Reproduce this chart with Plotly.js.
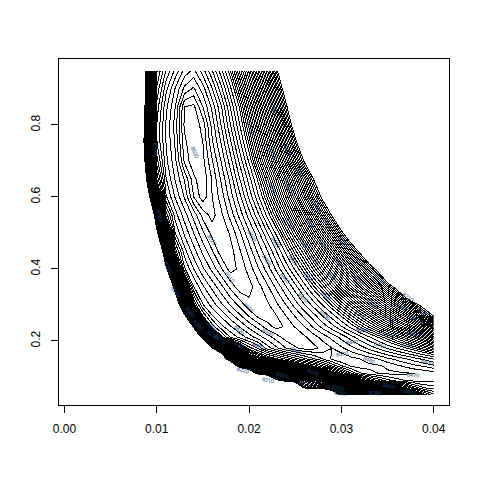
<!DOCTYPE html>
<html><head><meta charset="utf-8">
<script src="https://cdn.plot.ly/plotly-3.0.1.min.js"></script>
<style>
html,body{margin:0;padding:0;background:#fff}
#c{width:480px;height:480px}
.contourlevel path{shape-rendering:crispEdges}
</style></head><body><div id="c"></div>
<script>
const xValues=[.008,.009,.010,.011,.012,.013,.014,.015,.016,.017,.018,.019,.020,.021,.022,.023,.024,.025,.026,.027,.028,.029,.030,.031,.032,.033,.034,.035,.036,.037,.038,.039,.040];
const yValues=[.05,.07,.09,.11,.13,.15,.18,.21,.24,.27,.30,.35,.40,.45,.50,.55,.60,.65,.70,.75,.80,.85,.90,.95];
const z05=[7500,7500,7500,7500,7500,7500,7500,7500,7500,7500,7500,7500,7500,7500,7500,7500,7500,7600,7700,7800,7900,8100,8225,8235,8245,8255,8270,8285,8300,8320,8360,8395,8415];
const z07=[7500,7500,7500,7500,7500,7500,7500,7500,7500,7500,7500,7500,7500,7500,7600,7800,7950,8080,8215,8225,8240,8255,8275,8300,8325,8345,8360,8370,8385,8398,8425,8440,8445];
const z09=[7500,7500,7500,7500,7500,7500,7500,7500,7500,7500,7600,7750,7850,7900,8050,8190,8225,8232,8248,8265,8285,8310,8335,8365,8392,8415,8432,8446,8455,8460,8463,8464,8462];
const z11=[7500,7500,7500,7500,7500,7500,7500,7500,7500,7600,7750,7900,8100,8230,8250,8268,8285,8302,8320,8340,8360,8385,8410,8438,8458,8466,8470,8472,8472,8471,8470,8468,8465];
const z13=[7500,7500,7500,7500,7500,7500,7500,7500,7600,7700,8050,8260,8290,8310,8325,8340,8355,8370,8385,8400,8418,8440,8458,8470,8474,8473,8472,8468,8463,8458,8453,8449,8444];
const z15=[7500,7500,7500,7500,7500,7500,7500,7600,7800,8120,8270,8315,8345,8370,8385,8398,8412,8425,8437,8448,8460,8472,8480,8474,8470,8465,8460,8453,8447,8441,8434,8427,8419];
const z18=[7500,7500,7500,7500,7500,7500,7800,7950,8199,8265,8330,8375,8405,8422,8445,8458,8470,8478,8484,8483,8477,8470,8462,8454,8446,8437,8428,8419,8410,8401,8392,8382,8373];
const z21=[7500,7500,7500,7500,7750,7850,8107,8223,8351,8395,8421,8433,8444,8455,8465,8475,8485,8490,8482,8475,8466,8457,8447,8436,8424,8412,8400,8388,8376,8363,8349,8335,8320];
const z24=[7500,7500,7500,7700,7800,8070,8212,8353,8404,8427,8439,8451,8463,8474,8486,8494,8488,8479,8470,8458,8446,8434,8421,8407,8392,8378,8363,8347,8331,8315,8299,8281,8264];
const z27=[7600,7650,7750,7850,8045,8188,8314,8400,8429,8442,8456,8468,8481,8493,8496,8490,8480,8469,8457,8444,8429,8415,8399,8382,8366,8349,8330,8312,8293,8275,8254,8222,8198];
const z30=[7650,7700,7800,7994,8139,8276,8388,8429,8444,8458,8471,8483,8497,8500,8492,8482,8470,8456,8441,8426,8409,8392,8374,8356,8336,8315,8295,8276,8255,8232,8209,8188,8160];
const z35=[7700,7750,7850,8067,8231,8361,8429,8448,8463,8477,8493,8507,8504,8494,8482,8467,8451,8434,8415,8395,8377,8355,8333,8310,8288,8265,8242,8216,8190,8150,8110,8100,8100];
const z40=[7750,7820,7998,8184,8335,8428,8450,8468,8483,8499,8515,8507,8496,8481,8465,8447,8428,8408,8387,8365,8342,8318,8294,8269,8243,8216,8190,8150,8110,8100,8100,8100,8100];
const z45=[7800,7890,8085,8270,8405,8446,8466,8483,8499,8517,8514,8501,8486,8467,8450,8429,8406,8382,8360,8333,8307,8280,8251,8222,8194,8160,8120,8100,8100,8100,8100,8100,8100];
const z50=[7850,7976,8181,8346,8440,8462,8480,8498,8514,8519,8508,8492,8472,8453,8430,8406,8380,8354,8326,8297,8268,8239,8206,8174,8135,8100,8100,8100,8100,8100,8100,8100,8100];
const z55=[7900,8046,8259,8413,8455,8475,8494,8514,8524,8512,8496,8476,8455,8432,8406,8380,8352,8323,8293,8262,8229,8197,8160,8120,8100,8100,8100,8100,8100,8100,8100,8100,8100];
const z60=[7924,8153,8349,8448,8471,8491,8520,8536,8520,8505,8485,8463,8438,8412,8385,8356,8326,8294,8261,8226,8193,8150,8110,8100,8100,8100,8100,8100,8100,8100,8100,8100,8100];
const z65=[7986,8223,8400,8459,8481,8501,8527,8538,8519,8498,8476,8450,8425,8397,8367,8337,8304,8270,8235,8199,8165,8125,8100,8100,8100,8100,8100,8100,8100,8100,8100,8100,8100];
const z70=[8032,8267,8425,8467,8487,8522,8538,8533,8511,8489,8464,8437,8408,8375,8343,8308,8272,8235,8197,8160,8120,8100,8100,8100,8100,8100,8100,8100,8100,8100,8100,8100,8100];
const z75=[8052,8291,8439,8470,8492,8527,8540,8530,8502,8479,8452,8423,8392,8358,8323,8287,8247,8208,8166,8130,8100,8100,8100,8100,8100,8100,8100,8100,8100,8100,8100,8100,8100];
const z80=[8046,8293,8440,8471,8494,8532,8537,8526,8496,8469,8440,8410,8377,8340,8304,8267,8225,8183,8145,8105,8100,8100,8100,8100,8100,8100,8100,8100,8100,8100,8100,8100,8100];
const z85=[8015,8273,8434,8467,8490,8530,8533,8510,8487,8461,8429,8398,8362,8325,8286,8246,8205,8165,8125,8100,8100,8100,8100,8100,8100,8100,8100,8100,8100,8100,8100,8100,8100];
const z90=[7990,8248,8422,8457,8481,8503,8512,8495,8471,8443,8412,8379,8343,8305,8267,8225,8184,8140,8100,8100,8100,8100,8100,8100,8100,8100,8100,8100,8100,8100,8100,8100,8100];
const z95=[8001,8245,8408,8441,8463,8484,8493,8475,8451,8423,8393,8357,8325,8285,8248,8204,8160,8120,8100,8100,8100,8100,8100,8100,8100,8100,8100,8100,8100,8100,8100,8100,8100];
const zRows=[z05,z07,z09,z11,z13,z15,z18,z21,z24,z27,z30,z35,z40,z45,z50,z55,z60,z65,z70,z75,z80,z85,z90,z95];
const xTicks=[0,.01,.02,.03,.04], xTickText=['0.00','0.01','0.02','0.03','0.04'];
const yTicks=[.2,.4,.6,.8], yTickText=['0.2','0.4','0.6','0.8'];
const labelX=[.0141,.0160,.0179,.0200,.0220,.0251,.0301,.0330,.0311,.0322,.0282,.0258,.0239,.0219,.0203,.0229,.0248,.0264,.0283,.0320,.0291,.0271,.0258,.0280,.0296,.0318,.0333,.0350,.0350,.0342,.0372,.0342,.0320,.0302,.0364,.0388,.0382,.0376,.0371,.0393,.0378,.0374,.0336,.0298,.0220,.0269,.0210,.0189,.0201,.0226,.0226,.0242,.0225,.0242,.0255,.0244,.0274,.0244,.0266,.0285,.0098,.0103,.0112,.0120,.0136,.0145,.0161,.0169,.0193,.0236,.0261,.0296,.0352,.0190,.0160];
const labelY=[.725,.481,.378,.292,.225,.172,.164,.147,.197,.231,.272,.322,.375,.425,.492,.475,.425,.375,.325,.272,.378,.425,.475,.469,.419,.369,.306,.264,.217,.189,.322,.372,.419,.475,.294,.281,.258,.222,.189,.142,.106,.058,.056,.056,.092,.114,.186,.231,.794,.85,.722,.731,.625,.639,.667,.619,.572,.528,.528,.528,.735,.55,.405,.335,.28,.245,.218,.205,.12,.105,.08,.07,.075,.19,.24];
const labelText=['8530','8520','8510','8500','8490','8480','8470','8460','8440','8390','8430','8450','8440','8450','8450','8400','8400','8390','8380','8340','8340','8340','8340','8290','8290','8290','8310','8310','8370','8410','8210','8250','8240','8220','8260','8220','8270','8340','8390','8430','8470','8400','8290','8210','8210','8330','8400','8420','8370','8250','8310','8250','8380','8330','8250','8300','8230','8360','8300','8250','8300','8280','8290','8270','8300','8280','8290','8270','8220','8300','8270','8250','8400','8330','8350'];
const labelAngle=[65,55,50,40,30,25,-10,20,-5,10,45,45,50,55,60,55,55,50,45,35,50,50,55,50,50,45,40,25,20,15,35,45,45,50,30,30,20,15,10,15,5,10,5,5,10,20,25,45,70,70,70,70,70,70,65,65,60,60,60,60,85,75,65,60,50,45,35,35,15,15,15,10,10,30,45];

const fontFam='"Liberation Sans", Arial, sans-serif';
const lineStyle={color:'#000',width:1,smoothing:0};
const labels=labelText.map((t,i)=>({x:labelX[i],y:labelY[i],xref:'x',yref:'y',text:t,textangle:labelAngle[i],showarrow:false,
  font:{size:5.5,color:'#1d4a78',family:fontFam},borderpad:0}));
Plotly.newPlot('c',[
 {type:'contour',x:xValues,y:yValues,z:zRows,autocontour:false,
  contours:{coloring:'none',start:8400,end:8530,size:10,showlabels:false},
  line:lineStyle,showscale:false,hoverinfo:'skip'},
 {type:'contour',x:xValues,y:yValues,z:zRows,autocontour:false,
  contours:{coloring:'none',start:8200,end:8395,size:6.6667,showlabels:false},
  line:lineStyle,showscale:false,hoverinfo:'skip'}],
 {width:480,height:480,paper_bgcolor:'#fff',plot_bgcolor:'#fff',showlegend:false,annotations:labels,
  margin:{l:59,r:31,t:59,b:75,pad:0},
  xaxis:{range:[-0.00059,0.04166],tickvals:xTicks,ticktext:xTickText,ticks:'outside',ticklen:7,tickwidth:1,tickcolor:'#000',
    showgrid:false,zeroline:false,showline:true,mirror:true,linecolor:'#000',linewidth:1,ticklabelstandoff:6,
    tickfont:{family:fontFam,size:12,color:'#000'}},
  yaxis:{range:[0.0222,0.9833],tickvals:yTicks,ticktext:yTickText,ticks:'outside',ticklen:7,tickwidth:1,tickcolor:'#000',tickangle:-90,
    showgrid:false,zeroline:false,showline:true,mirror:true,linecolor:'#000',linewidth:1,ticklabelstandoff:6,
    tickfont:{family:fontFam,size:12,color:'#000'}}
 },{displayModeBar:false,staticPlot:true});
</script></body></html>
